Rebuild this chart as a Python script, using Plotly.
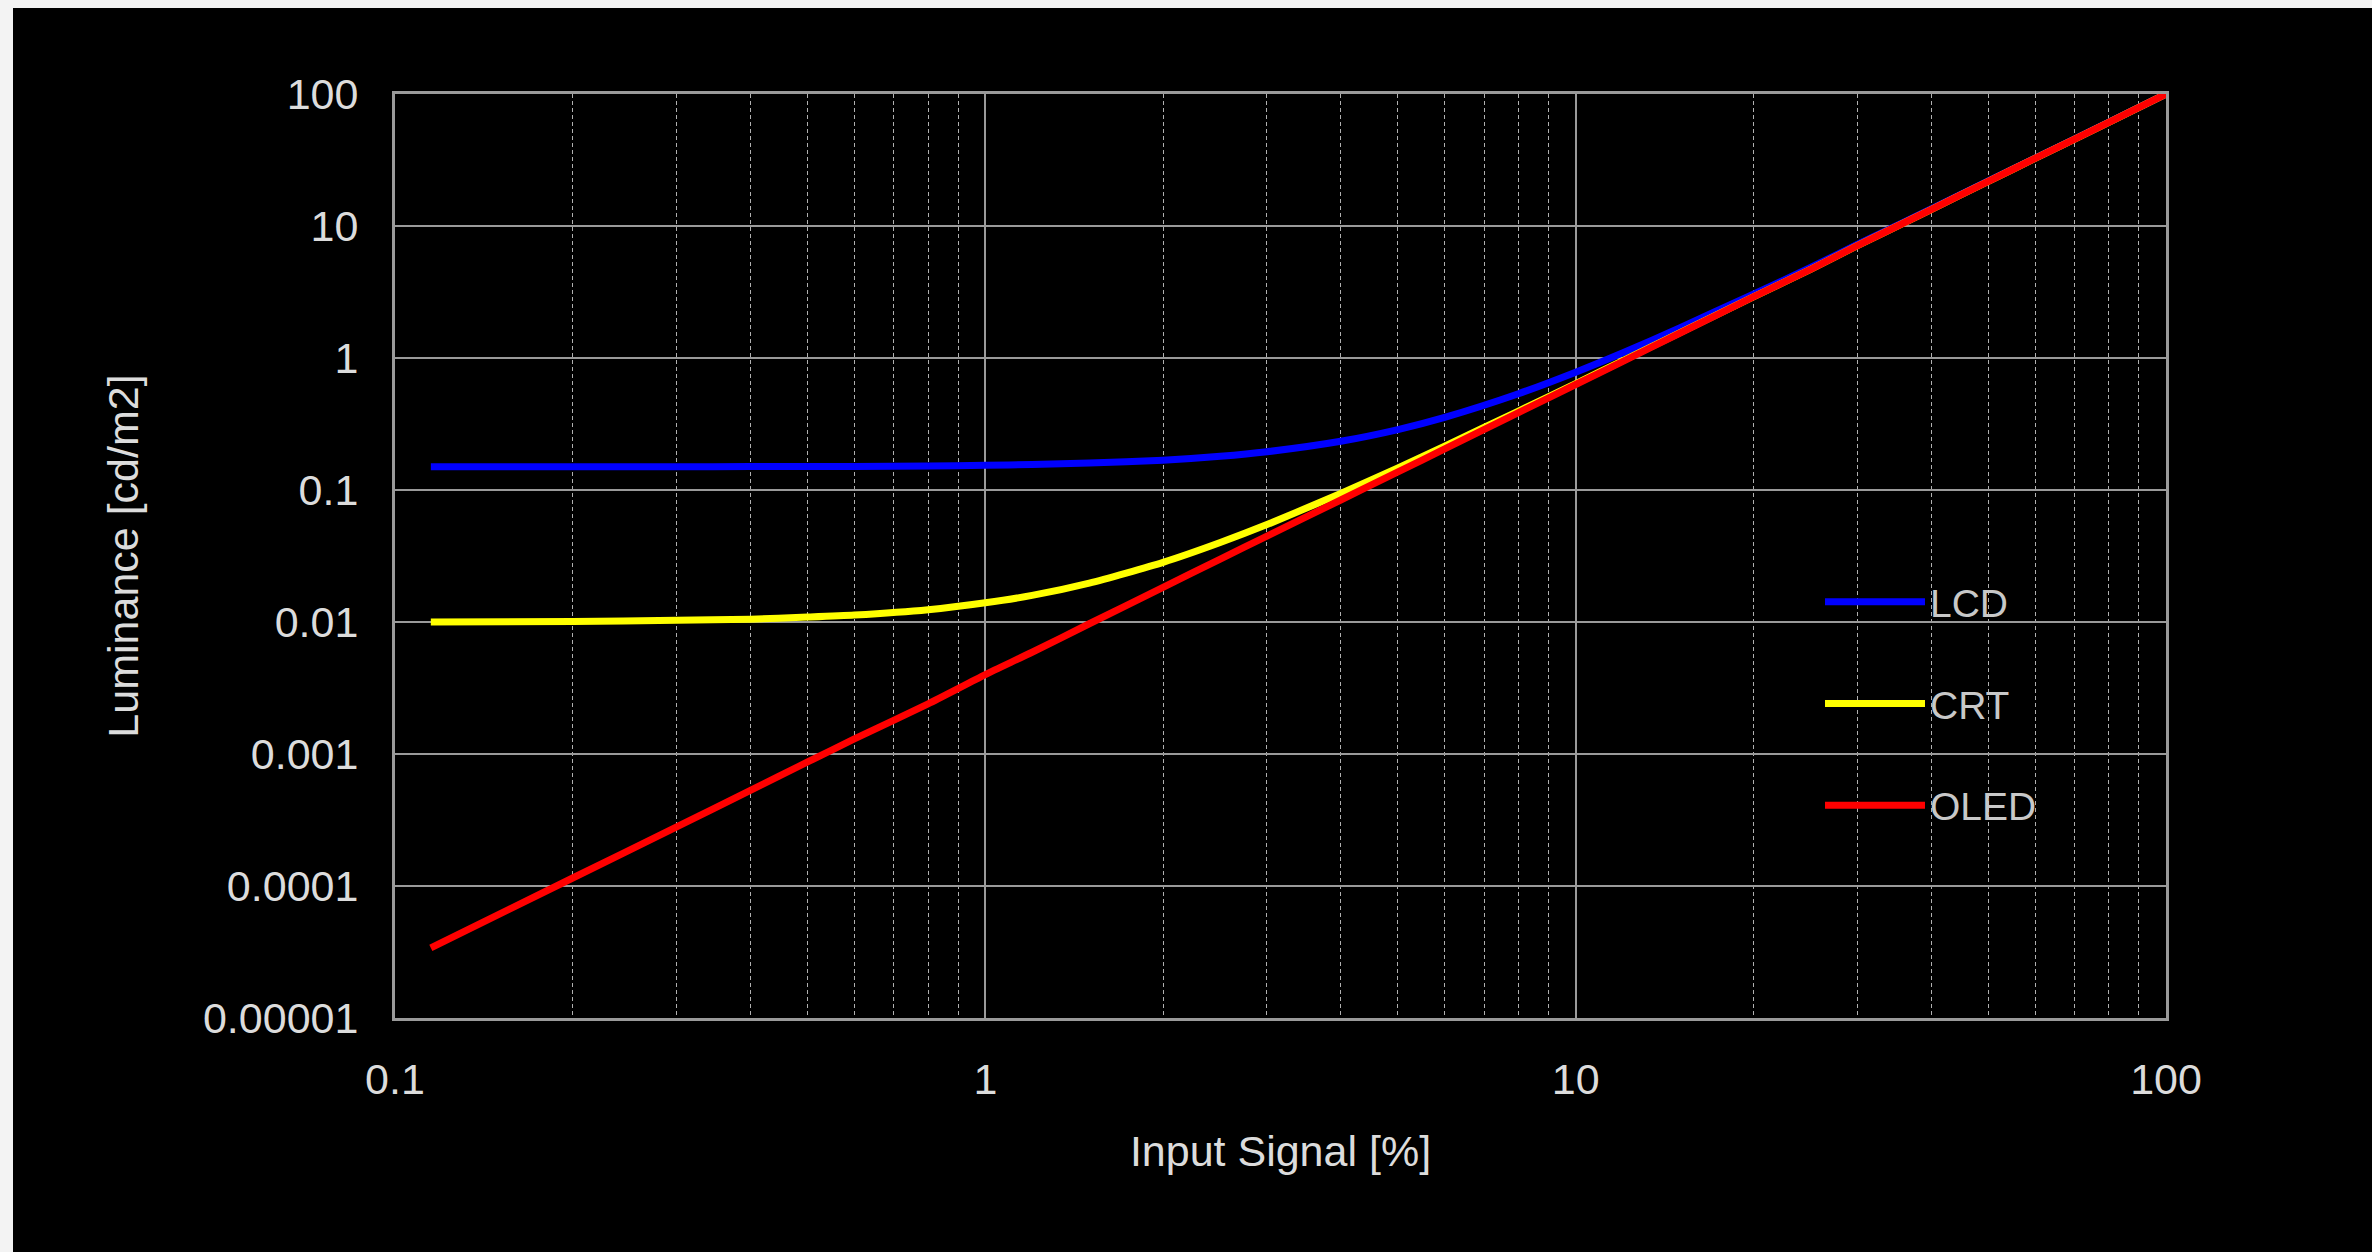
import plotly.graph_objects as go

# Input signal [%] sample points
input_signal = [0.115, 0.2, 0.3, 0.4, 0.5, 0.6, 0.8, 1.0, 1.2, 1.5, 2, 2.5, 3, 4, 5, 6, 8,
                10, 12, 15, 20, 25, 30, 40, 50, 60, 80, 100]

# Luminance [cd/m2]
lcd = [0.150, 0.150, 0.150, 0.1505, 0.151, 0.151, 0.152, 0.154, 0.156, 0.160, 0.168, 0.180,
       0.195, 0.234, 0.287, 0.355, 0.536, 0.78, 1.09, 1.69, 3.05, 4.85, 7.25, 13.45, 21.95,
       32.65, 61.2, 100]
crt = [0.0100, 0.0101, 0.0103, 0.0105, 0.0109, 0.0113, 0.0124, 0.0140, 0.0159, 0.0197, 0.0283,
       0.040, 0.0547, 0.094, 0.147, 0.215, 0.396, 0.64, 0.95, 1.55, 2.9, 4.7, 7.1, 13.3, 21.8,
       32.5, 61, 100]
oled = [3.4e-5, 1.15e-4, 2.8e-4, 5.3e-4, 8.7e-4, 1.3e-3, 2.4e-3, 4.0e-3, 5.9e-3, 9.7e-3, 0.0183,
        0.030, 0.0447, 0.084, 0.137, 0.205, 0.386, 0.63, 0.94, 1.54, 2.9, 4.7, 7.1, 13.3, 21.8,
        32.5, 61, 100]

series_names = ["LCD", "CRT", "OLED"]
series_colors = ["#0000ff", "#ffff00", "#ff0000"]

y_tickvals = [1e-5, 1e-4, 1e-3, 1e-2, 1e-1, 1, 10, 100]
y_ticktext = ["0.00001", "0.0001", "0.001", "0.01", "0.1", "1", "10", "100"]
x_tickvals = [0.1, 1, 10, 100]
x_ticktext = ["0.1", "1", "10", "100"]

W, H = 2372, 1252
L, R, T, B = 395, 206, 94, 234
pw, ph = W - L - R, H - T - B

fig = go.Figure()
for name, vals, col in zip(series_names, [lcd, crt, oled], series_colors):
    fig.add_trace(go.Scatter(
        x=input_signal, y=vals, mode="lines", name=name,
        line=dict(color=col, width=7, shape="spline", smoothing=0.6),
        legendgroup=name,
    ))

# black card behind the chart (page shows a thin light strip at top/left)
fig.add_shape(type="rect", xref="paper", yref="paper",
              x0=(13 - L) / pw, x1=(W + 5 - L) / pw,
              y0=-(B + 5) / ph, y1=(H - B - 8) / ph,
              fillcolor="black", line_width=0, layer="below")
# legend background panel (hides the gridlines behind the legend)
fig.add_shape(type="rect", xref="paper", yref="paper",
              x0=(1760 - L) / pw, x1=(2105 - L) / pw,
              y0=(H - B - 857) / ph, y1=(H - B - 547) / ph,
              fillcolor="black", line_width=0, layer="between")

font_fam = "Liberation Sans, Arial, sans-serif"
tick_font = dict(family=font_fam, size=43, color="#dcdcdc")
title_font = dict(family=font_fam, size=43, color="#dcdcdc")

fig.update_layout(
    width=W, height=H,
    margin=dict(l=L, r=R, t=T, b=B, autoexpand=False),
    paper_bgcolor="#f3f3f3",
    plot_bgcolor="black",
    showlegend=True,
    legend=dict(
        x=(1820 - L) / pw, y=(H - B - 570) / ph, xanchor="left", yanchor="top",
        bgcolor="rgba(0,0,0,0)", borderwidth=0,
        font=dict(family=font_fam, size=39, color="#c8c8c8"),
        traceorder="grouped", tracegroupgap=48, itemwidth=100,
    ),
    xaxis=dict(
        type="log", range=[-1, 2],
        tickvals=x_tickvals, ticktext=x_ticktext, tickfont=tick_font,
        ticks="", ticklabelstandoff=21,
        showgrid=True, gridcolor="#9a9a9a", gridwidth=2,
        minor=dict(dtick="D1", showgrid=True, gridcolor="#b0b0b0", gridwidth=1,
                   griddash="4px,3px", ticks=""),
        showline=True, linecolor="#9a9a9a", linewidth=3, mirror=True,
        zeroline=False,
        title=dict(text="Input Signal [%]", font=title_font, standoff=35),
    ),
    yaxis=dict(
        type="log", range=[-5, 2],
        tickvals=y_tickvals, ticktext=y_ticktext, tickfont=tick_font,
        ticks="", ticklabelstandoff=25,
        showgrid=True, gridcolor="#9a9a9a", gridwidth=2,
        showline=True, linecolor="#9a9a9a", linewidth=3, mirror=True,
        zeroline=False,
        title=dict(text="Luminance [cd/m2]", font=title_font, standoff=51),
    ),
)

fig.write_html("out.html")
